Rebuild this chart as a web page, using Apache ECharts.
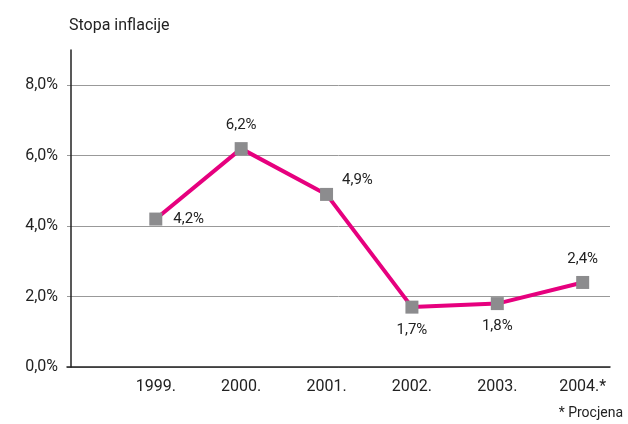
<!DOCTYPE html>
<html><head><meta charset="utf-8">
<script src="https://cdn.jsdelivr.net/npm/echarts@6/dist/echarts.min.js"></script>
<style>html,body{margin:0;padding:0;background:#fff}#c{width:628px;height:424px}</style>
</head><body><div id="c"></div>
<script>
const categories = ['1999.', '2000.', '2001.', '2002.', '2003.', '2004.*'];
const values = [4.2, 6.2, 4.9, 1.7, 1.8, 2.4];
const labelPositions = ['right', 'top', 'right', 'bottom', 'bottom', 'top'];
const yTicks = [0, 2, 4, 6, 8];

const FONT = '"Roboto", "Liberation Sans", sans-serif';
const fmt = v => v.toFixed(1).replace('.', ',') + '%';

const chart = echarts.init(document.getElementById('c'), null, {renderer: 'canvas'});
chart.setOption({
  animation: false,
  backgroundColor: '#fff',
  title: {
    text: 'Stopa inflacije', left: 64, top: 13,
    textStyle: {fontFamily: FONT, fontSize: 16, fontWeight: 'normal', color: '#222'}
  },
  grid: {left: 67, right: 18, top: 50, bottom: 57},
  xAxis: {
    type: 'value', min: -0.04, max: 6.32,
    splitLine: {show: false},
    axisLine: {show: true, onZero: false, lineStyle: {color: '#222', width: 1.5}},
    axisTick: {show: false},
    axisLabel: {
      customValues: categories.map((c, i) => i + 1),
      formatter: v => categories[Math.round(v) - 1] || '',
      margin: 12, fontFamily: FONT, fontSize: 16, color: '#222'
    }
  },
  yAxis: {
    type: 'value', min: 0, max: 9, interval: 2,
    axisLine: {show: true, lineStyle: {color: '#222', width: 1.5}},
    axisTick: {show: false},
    splitLine: {showMaxLine: false, lineStyle: {color: '#999', width: 1}},
    axisLabel: {
      formatter: v => yTicks.includes(v) ? fmt(v) : '',
      margin: 9, fontFamily: FONT, fontSize: 16, color: '#222'
    }
  },
  series: [{
    type: 'line',
    data: values.map((v, i) => ({
      value: [i + 1, v],
      label: {
        position: labelPositions[i],
        distance: labelPositions[i] === 'right' ? 11 : 9,
        offset: i === 2 ? [-2, -14] : [0, 0]
      }
    })),
    lineStyle: {color: '#e6007e', width: 4},
    itemStyle: {color: '#8c8c8e'},
    symbol: 'rect', symbolSize: 13,
    label: {
      show: true, formatter: p => fmt(p.value[1]),
      fontFamily: FONT, fontSize: 15, color: '#222'
    },
    z: 3
  }],
  graphic: [{
    type: 'text', right: 5, top: 406,
    style: {text: '* Procjena', fontFamily: FONT, fontSize: 14, fill: '#222'}
  }]
});
</script></body></html>
